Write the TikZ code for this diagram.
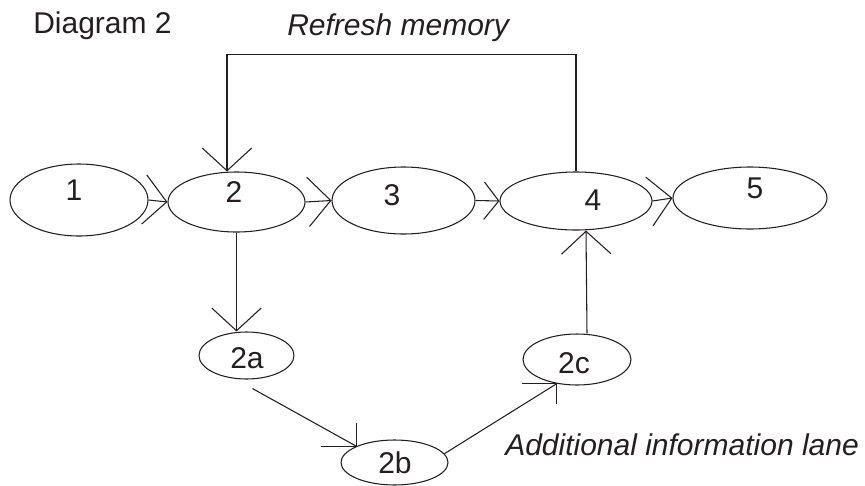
\documentclass[tikz,border=0pt]{standalone}
\usepackage{fontspec}
\setmainfont{Liberation Sans}
\usetikzlibrary{shapes.geometric,arrows.meta,calc}
\definecolor{ink}{RGB}{35,31,32}
\begin{document}
\begin{tikzpicture}[x=0.75pt,y=-0.75pt,
  state/.style={ellipse,draw=ink,line width=0.8pt,inner sep=0pt},
  txt/.style={inner sep=0pt,text=ink,font=\fontsize{22.5}{27}\selectfont},
  digit/.style={txt,anchor=base},
  plain/.style={line width=0.8pt,draw=ink},
  barb/.style={plain,-{Straight Barb[length=17pt,width=37pt,line width=0.8pt]}},
  smallbarb/.style={plain,-{Straight Barb[length=11pt,width=28pt,line width=0.8pt]}}]
\useasboundingbox (0,0) rectangle (865,486);

% titles and captions
\node[txt,anchor=base west] (title) at (33,33) {Diagram 2};
\node[txt,anchor=base west] (refresh) at (287,35) {\itshape Refresh memory};
\node[txt,anchor=base west] (lane) at (505,455) {\itshape Additional information lane};

% main chain
\node[state,minimum width=103.5pt,minimum height=54pt] (e1) at (79,200) {};
\node[state,minimum width=102.75pt,minimum height=45pt] (e2) at (236.5,202) {};
\node[state,minimum width=107.25pt,minimum height=50.25pt] (e3) at (403.5,200.5) {};
\node[state,minimum width=114pt,minimum height=43.5pt] (e4) at (576,201) {};
\node[state,minimum width=115.5pt,minimum height=46.5pt] (e5) at (750,198) {};

% side lane
\node[state,minimum width=71.25pt,minimum height=35.25pt] (e2a) at (246.5,355.5) {};
\node[state,minimum width=80.25pt,minimum height=33.75pt] (e2b) at (394.5,462.5) {};
\node[state,minimum width=81pt,minimum height=38.25pt] (e2c) at (577,359.5) {};

% labels
\node[digit] (l1) at (74,200) {1};
\node[digit] (l2) at (234,202) {2};
\node[digit] (l3) at (392,205) {3};
\node[digit] (l4) at (593,210) {4};
\node[digit] (l5) at (755,198) {5};
\node[digit] (l2a) at (247,368) {2a};
\node[digit] (l2b) at (395,473) {2b};
\node[digit] (l2c) at (574,373) {2c};

% main chain connectors
\draw[barb] (e1.east) -- (e2.west);
\draw[barb] (e2.east) -- (e3.west);
\draw[smallbarb] (e3.east) -- (e4.west);
\draw[barb] (e4.east) -- (e5.west);

% refresh loop from 4 back to 2
\draw[barb] (e4.north) -- ++(0,-117) -| ($(e2.north)+(-9.5,0)$);

% side lane connectors
\draw[barb] (e2.south) -- (e2.south |- e2a.north);
\draw[plain] ($(e2a.south)+(6,9)$) -- (e2b.north west);
\draw[plain] (e2b.north west) -- ++(-35,0);
\draw[plain] (e2b.north west) -- ++(0,-23);
\draw[plain] (e2b.10) -- (e2c.230);
\draw[plain] (e2c.230) -- ++(-35,0);
\draw[plain] (e2c.230) -- ++(0,20);
\draw[barb] ($(e2c.north)+(10,0)$) -- ($(e4.south)+(10,0)$);
\end{tikzpicture}
\end{document}
